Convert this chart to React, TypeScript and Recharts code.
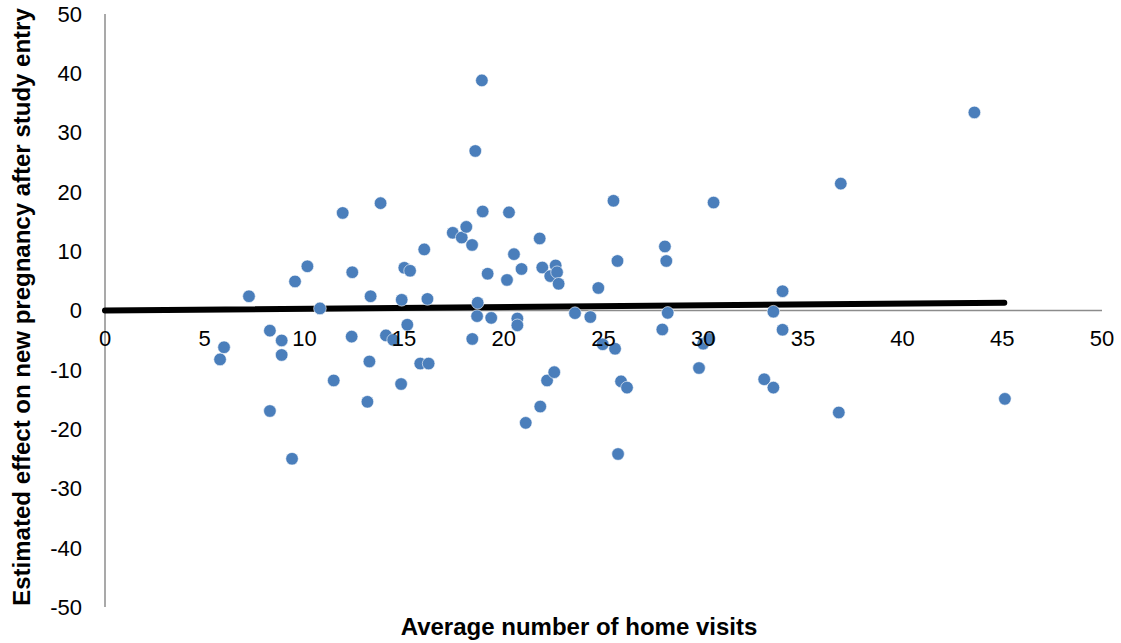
import React from 'react';
import {
  ScatterChart,
  Scatter,
  XAxis,
  YAxis,
  ReferenceLine,
  ReferenceDot,
  Label,
} from 'recharts';

const xValues: number[] = [
  5.77, 5.97, 7.22, 8.27, 8.27, 8.86, 8.86, 9.38, 9.53, 10.15,
  10.78, 11.47, 11.92, 12.37, 12.4, 13.16, 13.26, 13.32, 13.82, 14.09,
  14.45, 14.85, 14.88, 15.01, 15.3, 15.16, 16.01, 16.17, 15.81, 16.23,
  17.44, 17.89, 18.12, 18.41, 18.57, 18.9, 18.94, 18.69, 18.66, 18.42,
  19.19, 19.37, 20.16, 20.26, 20.51, 20.68, 20.68, 20.89, 21.1, 21.8,
  21.83, 21.93, 22.17, 22.53, 22.33, 22.6, 22.67, 22.75, 23.57, 24.34,
  24.74, 24.96, 25.5, 25.58, 25.7, 25.73, 25.88, 26.18, 27.95, 28.08,
  28.15, 28.22, 29.79, 30.0, 30.3, 30.52, 33.06, 33.52, 33.52, 33.98,
  33.98, 36.9, 36.8, 43.6, 45.13,
];

const yValues: number[] = [
  -8.25, -6.2, 2.4, -3.4, -16.95, -5.05, -7.5, -25.0, 4.9, 7.45,
  0.35, -11.8, 16.45, -4.4, 6.45, -15.4, -8.6, 2.4, 18.1, -4.2,
  -4.95, -12.4, 1.8, 7.2, 6.7, -2.4, 10.3, 1.95, -8.95, -8.95,
  13.1, 12.3, 14.1, 11.05, 26.9, 38.8, 16.7, 1.3, -0.95, -4.8,
  6.2, -1.25, 5.15, 16.55, 9.5, -1.35, -2.5, 7.0, -18.95, 12.15,
  -16.2, 7.25, -11.8, -10.4, 5.8, 7.6, 6.45, 4.5, -0.45, -1.1,
  3.8, -5.7, 18.5, -6.45, 8.35, -24.2, -11.95, -13.0, -3.2, 10.8,
  8.35, -0.4, -9.7, -5.6, -4.8, 18.2, -11.6, -13.0, -0.2, -3.25,
  3.25, 21.4, -17.2, 33.4, -14.9,
];

const trendX: number[] = [0, 45.1];
const trendY: number[] = [0, 1.3];

const xTicks: number[] = [0, 5, 10, 15, 20, 25, 30, 35, 40, 45, 50];
const yTicks: number[] = [-50, -40, -30, -20, -10, 0, 10, 20, 30, 40, 50];

const xTitle = 'Average number of home visits';
const yTitle = 'Estimated effect on new pregnancy after study entry';

const points = xValues.map((x, i) => ({ x, y: yValues[i] }));
const trend = trendX.map((x, i) => ({ x, y: trendY[i] }));

const FONT = '"Liberation Sans", Arial, Helvetica, sans-serif';
const DOT = '#4a7ebb';
const AXIS = '#8c8c8c';

const Dot = (props: any) => {
  const { cx, cy } = props;
  if (cx == null || cy == null) return <g />;
  return <circle cx={cx} cy={cy} r={6.3} fill={DOT} stroke="#ffffff" strokeWidth={0.6} />;
};

const NoShape = () => <g />;

const YTitle = () => (
  <text
    x={29.5}
    y={307}
    transform="rotate(-90, 29.5, 307)"
    textAnchor="middle"
    fontFamily={FONT}
    fontSize={24}
    fontWeight="bold"
    fill="#000"
  >
    {yTitle}
  </text>
);

const XTitle = () => (
  <text
    x={579}
    y={634.5}
    textAnchor="middle"
    fontFamily={FONT}
    fontSize={24}
    fontWeight="bold"
    fill="#000"
  >
    {xTitle}
  </text>
);

export default function App() {
  return (
    <div style={{ position: 'absolute', left: 0, top: 0, width: 1121, height: 643, background: '#fff' }}>
      <ScatterChart
        width={1121}
        height={643}
        margin={{ top: 14, right: 19, bottom: 0, left: 0 }}
        style={{ fontFamily: FONT }}
      >
        <XAxis
          type="number"
          dataKey="x"
          domain={[0, 50]}
          ticks={xTicks}
          height={36}
          axisLine={false}
          tickLine={false}
          tick={false}
        >
          <Label content={<XTitle />} />
        </XAxis>
        <YAxis
          type="number"
          dataKey="y"
          domain={[-50, 50]}
          ticks={yTicks}
          width={105}
          axisLine={{ stroke: AXIS, strokeWidth: 1.5 }}
          tickLine={false}
          tickSize={0}
          tickMargin={23}
          tick={{ fill: '#000', fontSize: 22, fontFamily: FONT }}
          interval={0}
        >
          <Label content={<YTitle />} />
        </YAxis>
        <ReferenceLine y={0} stroke={AXIS} strokeWidth={1.5} />
        <Scatter
          data={trend}
          line={{ stroke: '#000', strokeWidth: 6, strokeLinecap: 'round' }}
          shape={<NoShape />}
          isAnimationActive={false}
          legendType="none"
        />
        <Scatter data={points} shape={<Dot />} isAnimationActive={false} />
        {xTicks.map((t) => (
          <ReferenceDot
            key={t}
            x={t}
            y={0}
            r={0}
            fill="none"
            stroke="none"
            label={{
              value: String(t),
              position: 'bottom',
              offset: 20,
              fill: '#000',
              fontSize: 22,
              fontFamily: FONT,
            }}
          />
        ))}
      </ScatterChart>
    </div>
  );
}
